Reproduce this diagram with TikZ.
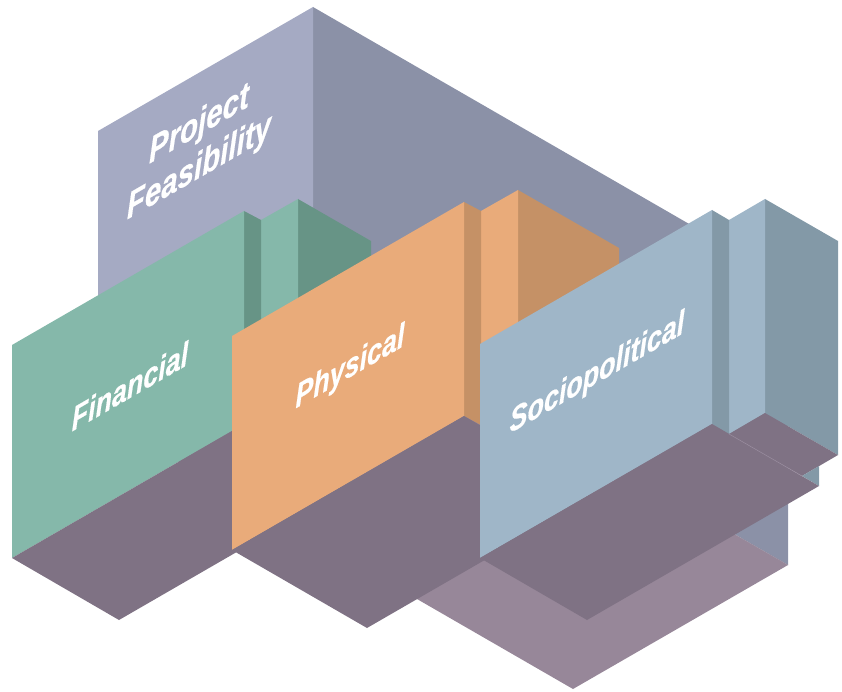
\documentclass[tikz,border=0pt]{standalone}
\usepackage{fontspec}
\setmainfont{Liberation Sans}
\newfontfamily\blockfont{Liberation Sans}[BoldItalicFeatures={FakeBold=0.6}]
\begin{document}
\begin{tikzpicture}[x=1pt, y=-1pt,
  face/.style={fill=#1, draw=none},
  lbl/.style={text=white, inner sep=0pt, anchor=base,
    font=\blockfont\fontsize{31}{31}\selectfont\bfseries\itshape,
    cm={0.866,0.5,0,1.08,(0,0)}},
  biglbl/.style={lbl, font=\blockfont\fontsize{34}{34}\selectfont\bfseries\itshape},
  seam/.style={draw=#1, line width=0.5pt}
]
\definecolor{pfL}{HTML}{A5AAC3}
\definecolor{pfR}{HTML}{8B91A7}
\definecolor{pfB}{HTML}{978799}
\definecolor{plate}{HTML}{7F7284}
\definecolor{finL}{HTML}{85B8AA}
\definecolor{finD}{HTML}{679486}
\definecolor{phyL}{HTML}{E9AB7A}
\definecolor{phyD}{HTML}{C59166}
\definecolor{socL}{HTML}{9FB6C8}
\definecolor{socD}{HTML}{8399A7}
\definecolor{seamc}{HTML}{9B8EA0}
\useasboundingbox (0,0) rectangle (842,692);

% Project Feasibility: large box behind everything
\fill[face=pfR] (313,7) -- (788,281) -- (788,565) -- (313,291) -- cycle;
\fill[face=pfL] (98,131) -- (313,7) -- (313,291) -- (98,415) -- cycle;
\fill[face=pfB] (313,291) -- (788,565) -- (573,689) -- (98,415) -- cycle;
\draw[seam=seamc, line width=0.3pt] (737,536) -- (788,565);

% Financial block
\fill[face=finD] (298,199) -- (371,241) -- (371,455) -- (298,413) -- cycle;
\fill[face=finL] (261,220) -- (298,199) -- (298,413) -- (261,434) -- cycle;
\fill[face=finD] (244,211) -- (261,220) -- (261,434) -- (244,424) -- cycle;
\fill[face=finL] (12,345) -- (244,211) -- (244,424) -- (12,558) -- cycle;
\fill[face=plate] (261,434) -- (298,413) -- (371,455) -- (334,476) -- cycle;
\fill[face=finD] (334,476) -- (351,466) -- (351,486) -- cycle;
\fill[face=plate] (12,558) -- (119,620) -- (351,486) -- (244,424) -- cycle;

% Physical block
\fill[face=phyD] (518,190) -- (619,248) -- (619,462) -- (518,404) -- cycle;
\fill[face=phyL] (481,211) -- (518,190) -- (518,404) -- (481,425) -- cycle;
\fill[face=phyD] (464,202) -- (481,211) -- (481,425) -- (464,416) -- cycle;
\fill[face=phyL] (232,336) -- (464,202) -- (464,416) -- (232,550) -- cycle;
\fill[face=plate] (481,425) -- (518,404) -- (619,462) -- (582,483) -- cycle;
\fill[face=plate] (232,550) -- (367,628) -- (599,494) -- (464,416) -- cycle;

% Sociopolitical block
\fill[face=socD] (765,199) -- (838,241) -- (838,455) -- (765,413) -- cycle;
\fill[face=socL] (729,220) -- (765,199) -- (765,413) -- (729,434) -- cycle;
\fill[face=socD] (712,210) -- (729,220) -- (729,434) -- (712,424) -- cycle;
\fill[face=socL] (480,344) -- (712,210) -- (712,424) -- (480,558) -- cycle;
\fill[face=plate] (729,434) -- (765,413) -- (838,455) -- (802,476) -- cycle;
\fill[face=socD] (802,476) -- (819,466) -- (819,486) -- cycle;
\fill[face=plate] (480,558) -- (587,620) -- (819,486) -- (712,424) -- cycle;
\draw[seam=seamc] (729,434) -- (802,476);

% Labels set in the plane of the front faces
\node[biglbl] (pf1) at (199,135) {Project};
\node[biglbl] (pf2) at (199,178) {Feasibility};
\node[lbl] (fin) at (130,398) {Financial};
\node[lbl] (phy) at (350,377) {Physical};
\node[lbl] (soc) at (597,383) {Sociopolitical};
\end{tikzpicture}
\end{document}
